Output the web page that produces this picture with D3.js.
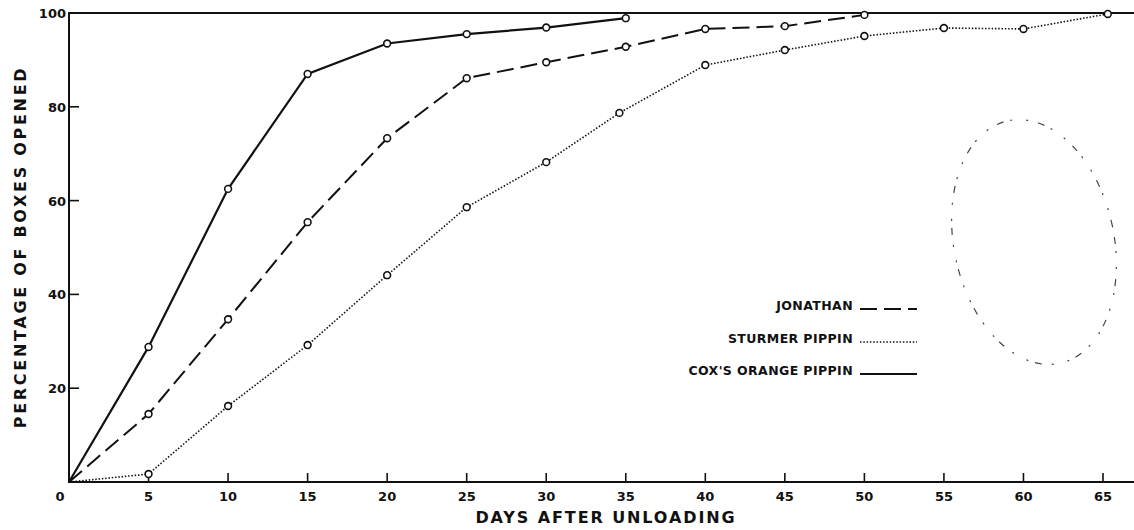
<!DOCTYPE html>
<html>
<head>
<meta charset="utf-8">
<script src="https://cdn.jsdelivr.net/npm/d3@7"></script>
<style>
  body { margin: 0; background: #fff; }
  svg text { font-family: "DejaVu Sans", sans-serif; font-weight: bold; fill: #111; }
</style>
</head>
<body>
<svg id="chart" width="1134" height="530"></svg>
<script>
// data
const coxDays = [0, 5, 10, 15, 20, 25, 30, 35];
const coxPct = [0, 28.8, 62.5, 87.0, 93.5, 95.5, 96.9, 98.9];

const jonathanDays = [0, 5, 10, 15, 20, 25, 30, 35, 40, 45, 50];
const jonathanPct = [0, 14.5, 34.7, 55.4, 73.3, 86.1, 89.5, 92.8, 96.6, 97.2, 99.6];

const sturmerDays = [0, 5, 10, 15, 20, 25, 30, 34.6, 40, 45, 50, 55, 60, 65.3];
const sturmerPct = [0, 1.7, 16.2, 29.2, 44.1, 58.6, 68.2, 78.7, 88.9, 92.1, 95.1, 96.8, 96.6, 99.8];

const xTicks = [5, 10, 15, 20, 25, 30, 35, 40, 45, 50, 55, 60, 65];
const yTicks = [20, 40, 60, 80];

const legendNames = ["JONATHAN", "STURMER PIPPIN", "COX'S ORANGE PIPPIN"];

const svg = d3.select("#chart");

const x = d3.scaleLinear().domain([0, 65]).range([69, 1103]);
const y = d3.scaleLinear().domain([0, 100]).range([482, 13]);

// frame: left axis, bottom axis, top rule
const frame = svg.append("g").attr("stroke", "#111").attr("stroke-width", 2).attr("fill", "none");
frame.append("line").attr("x1", x(0)).attr("x2", x(0)).attr("y1", y(100)).attr("y2", y(0));
frame.append("line").attr("x1", x(0) - 1).attr("x2", 1134).attr("y1", y(0)).attr("y2", y(0));
frame.append("line").attr("x1", x(0) - 1).attr("x2", 1134).attr("y1", y(100)).attr("y2", y(100));

// x ticks
svg.append("g").selectAll("line").data(xTicks).enter().append("line")
    .attr("x1", d => x(d)).attr("x2", d => x(d))
    .attr("y1", y(0)).attr("y2", y(0) - 9)
    .attr("stroke", "#111").attr("stroke-width", 1.6);
svg.append("g").selectAll("text").data(xTicks).enter().append("text")
    .attr("x", d => x(d)).attr("y", 501)
    .attr("text-anchor", "middle").attr("font-size", 13)
    .text(d => d);
svg.append("text").attr("x", 60).attr("y", 501).attr("text-anchor", "middle")
    .attr("font-size", 13).text("0");

// y ticks
svg.append("g").selectAll("line").data(yTicks).enter().append("line")
    .attr("x1", x(0)).attr("x2", x(0) + 10)
    .attr("y1", d => y(d)).attr("y2", d => y(d))
    .attr("stroke", "#111").attr("stroke-width", 1.6);
svg.append("g").selectAll("text").data(yTicks.concat([100])).enter().append("text")
    .attr("x", 66).attr("y", d => y(d) + 5)
    .attr("text-anchor", "end").attr("font-size", 13)
    .text(d => d);

// axis titles
svg.append("text").attr("x", 606).attr("y", 523).attr("text-anchor", "middle")
    .attr("font-size", 16).attr("letter-spacing", 1.9)
    .text("DAYS AFTER UNLOADING");
svg.append("text").attr("transform", "translate(26,247) rotate(-90)")
    .attr("text-anchor", "middle").attr("font-size", 16).attr("letter-spacing", 2.7)
    .text("PERCENTAGE OF BOXES OPENED");

// series
const styles = {
    jonathan: { dash: "17,7", width: 2 },
    sturmer: { dash: "1.5,1.8", width: 1.6 },
    cox: { dash: null, width: 2.2 }
};
const series = [
    { key: "jonathan", pts: jonathanDays.map((d, i) => [d, jonathanPct[i]]) },
    { key: "sturmer", pts: sturmerDays.map((d, i) => [d, sturmerPct[i]]) },
    { key: "cox", pts: coxDays.map((d, i) => [d, coxPct[i]]) }
];
const line = d3.line().x(d => x(d[0])).y(d => y(d[1]));

series.forEach(s => {
    const st = styles[s.key];
    svg.append("path").datum(s.pts)
        .attr("d", line)
        .attr("fill", "none")
        .attr("stroke", "#111")
        .attr("stroke-width", st.width)
        .attr("stroke-dasharray", st.dash);
    svg.append("g").selectAll("circle").data(s.pts.slice(1)).enter().append("circle")
        .attr("cx", d => x(d[0])).attr("cy", d => y(d[1]))
        .attr("r", 3.4)
        .attr("fill", "#fff").attr("stroke", "#111").attr("stroke-width", 1.6);
});

// legend
const legendY = [305, 338, 370];
const legendKeys = ["jonathan", "sturmer", "cox"];
legendNames.forEach((name, i) => {
    svg.append("text").attr("x", 853).attr("y", legendY[i] + 5)
        .attr("text-anchor", "end").attr("font-size", 12.5).attr("letter-spacing", 0.4)
        .text(name);
    const st = styles[legendKeys[i]];
    svg.append("line").attr("x1", 860).attr("x2", 917)
        .attr("y1", legendY[i] + 4).attr("y2", legendY[i] + 4)
        .attr("stroke", "#111").attr("stroke-width", st.width)
        .attr("stroke-dasharray", st.dash);
});

// faint library stamp remnant
svg.append("ellipse")
    .attr("cx", 1034).attr("cy", 242).attr("rx", 80).attr("ry", 124)
    .attr("transform", "rotate(-12,1034,242)")
    .attr("fill", "none").attr("stroke", "#444").attr("stroke-width", 1.2)
    .attr("stroke-dasharray", "2,10,7,7,2,14");
</script>
</body>
</html>
